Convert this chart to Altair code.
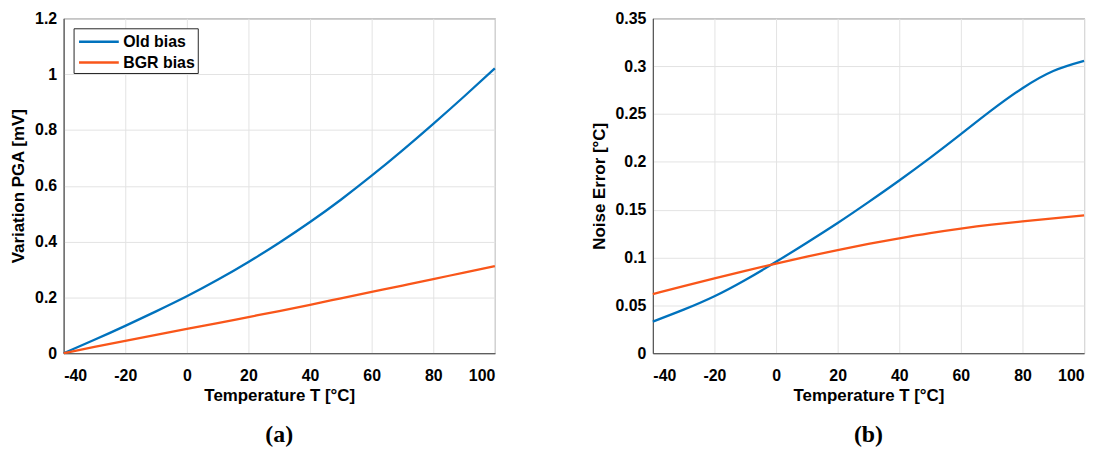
import altair as alt
import pandas as pd

temps = [-40, -30, -20, -10, 0, 10, 20, 30, 40, 50, 60, 70, 80, 90, 100]

a_old = [0.0, 0.048, 0.098, 0.150, 0.204, 0.263, 0.327, 0.396, 0.470, 0.550, 0.636, 0.727, 0.822, 0.920, 1.021]
a_bgr = [0.0, 0.0225, 0.0445, 0.066, 0.087, 0.108, 0.1295, 0.151, 0.1735, 0.1965, 0.2195, 0.2425, 0.2655, 0.289, 0.312]

b_old = [0.033, 0.0455, 0.0595, 0.0765, 0.0955, 0.1155, 0.1361, 0.1579, 0.1805, 0.2041, 0.2289, 0.2540, 0.2770, 0.2950, 0.3056]
b_bgr = [0.0618, 0.0700, 0.0781, 0.0860, 0.0937, 0.1010, 0.1078, 0.1142, 0.1201, 0.1255, 0.1302, 0.1343, 0.1378, 0.1410, 0.1440]

series_names = ["Old bias", "BGR bias"]
series_colors = ["#0072BD", "#F9561A"]
x_ticks = [-40, -20, 0, 20, 40, 60, 80, 100]

FONT = "Liberation Sans"


def make_df(old, bgr):
    rows = []
    for t, v in zip(temps, old):
        rows.append({"T": t, "v": v, "series": series_names[0]})
    for t, v in zip(temps, bgr):
        rows.append({"T": t, "v": v, "series": series_names[1]})
    return pd.DataFrame(rows)


def panel(old, bgr, ytitle, ymax, ystep, caption):
    df = make_df(old, bgr)
    n = int(round(ymax / ystep))
    y_ticks = [round(i * ystep, 4) for i in range(n + 1)]
    return (
        alt.Chart(df)
        .mark_line(strokeWidth=2.3, interpolate="natural")
        .encode(
            x=alt.X(
                "T:Q",
                scale=alt.Scale(domain=[-40, 100], nice=False, zero=False),
                axis=alt.Axis(
                    values=x_ticks,
                    title="Temperature T [°C]",
                    labelExpr="'' + datum.value",
                    labelPadding=14,
                    titlePadding=5,
                ),
            ),
            y=alt.Y(
                "v:Q",
                scale=alt.Scale(domain=[0, ymax], nice=False),
                axis=alt.Axis(values=y_ticks, title=ytitle, format="~g",
                              labelPadding=7, titlePadding=7),
            ),
            color=alt.Color(
                "series:N",
                sort=series_names,
                scale=alt.Scale(domain=series_names, range=series_colors),
                legend=alt.Legend(
                    title=None,
                    orient="top-left",
                    offset=10,
                    strokeColor="#262626",
                    fillColor="white",
                    padding=2,
                    symbolType="M-0.8,0H3.2",
                    symbolSize=400,
                    symbolStrokeWidth=2.5,
                    labelFont=FONT,
                    labelFontSize=16,
                    labelFontWeight="bold",
                    labelColor="black",
                    rowPadding=1,
                    labelOffset=25,
                    cornerRadius=0,
                ),
            ),
        )
        .properties(
            width=434,
            height=337,
            title=alt.TitleParams(
                caption,
                orient="bottom",
                anchor="middle",
                frame="group",
                font="Liberation Serif",
                fontSize=24,
                fontWeight="bold",
                color="black",
                offset=19,
            ),
        )
    )


left = panel(a_old, a_bgr, "Variation PGA [mV]", 1.2, 0.2, "(a)")
right = panel(b_old, b_bgr, "Noise Error [°C]", 0.35, 0.05, "(b)")

chart = (
    alt.hconcat(left, right, spacing=89)
    .properties(padding={"left": 1, "top": 0, "right": 5, "bottom": 0}, background="white")
    .configure_view(stroke="#555555", strokeWidth=1)
    .configure_axis(
        labelFont=FONT,
        labelFontSize=16,
        labelFontWeight="bold",
        labelColor="black",
        titleFont=FONT,
        titleFontSize=17,
        titleFontWeight="bold",
        titleColor="black",
        domainColor="#444444",
        domainWidth=1,
        gridColor="#E3E3E3",
        gridWidth=1,
        ticks=False,
    )
)

chart.save("out.html", embed_options={"renderer": "svg", "actions": False})
